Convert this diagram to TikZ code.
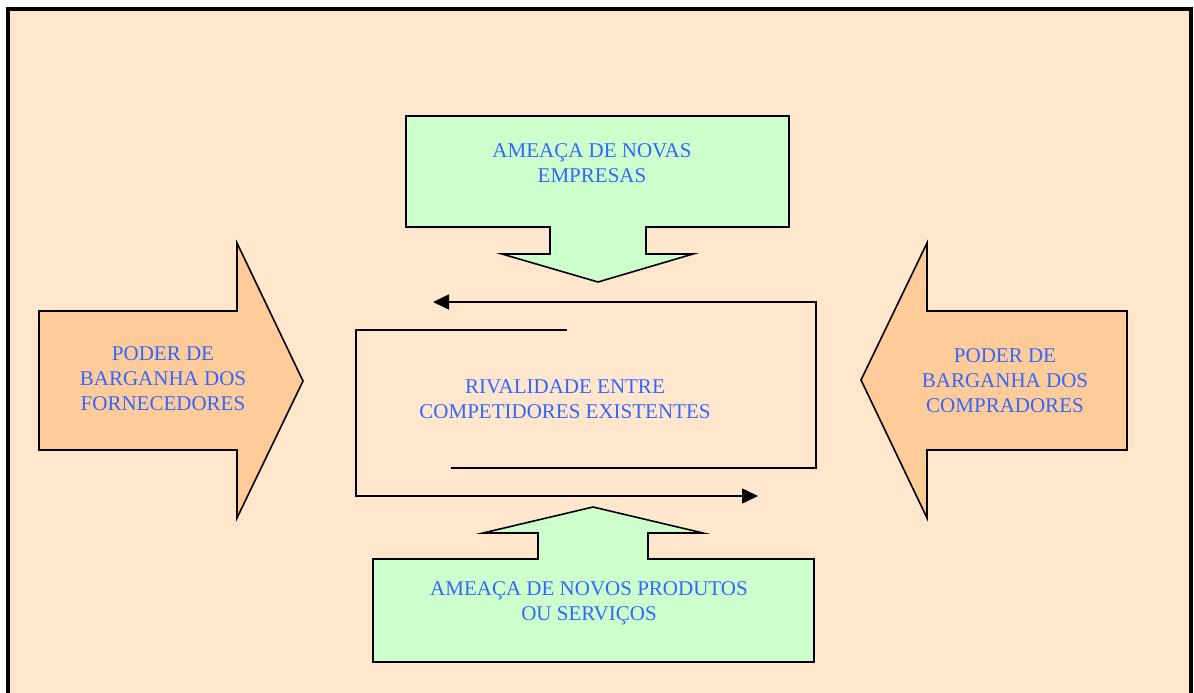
\documentclass[tikz,border=0pt]{standalone}
\usepackage{fontspec}
\setmainfont{Liberation Serif}
\usetikzlibrary{arrows.meta}
\definecolor{pagebg}{HTML}{FFE6CC}
\definecolor{threatfill}{HTML}{CCFFCC}
\definecolor{powerfill}{HTML}{FFCC99}
\definecolor{labelblue}{HTML}{3366FF}
\tikzset{
  forceshape/.style={draw=black, line width=1.6pt, line join=miter},
  forcelabel/.style={text=labelblue, align=center, font=\fontsize{21}{25}\selectfont, inner sep=0pt},
  loopline/.style={draw=black, line width=1.6pt},
  looparrow/.style={loopline, -{Triangle[length=16pt, width=15pt]}}
}
\begin{document}
\begin{tikzpicture}[x=1pt, y=-1pt]
  \useasboundingbox (0,0) rectangle (1194,693);
  \clip (0,0) rectangle (1194,693);
  \fill[white] (0,0) rectangle (1194,693);
  % outer frame
  \draw[fill=pagebg, line width=4pt] (8,9) rectangle (1191,710);

  % threat of new entrants (top, pointing down)
  \draw[forceshape, fill=threatfill]
    (406,116) -- (789,116) -- (789,227) -- (646,227) -- (646,254) -- (693,254)
    -- (598,282) -- (502,254) -- (550,254) -- (550,227) -- (406,227) -- cycle;
  \node[forcelabel] (entrants) at (592,163) {AMEAÇA DE NOVAS\\EMPRESAS};

  % threat of substitutes (bottom, pointing up)
  \draw[forceshape, fill=threatfill]
    (373,662) -- (814,662) -- (814,559) -- (648,559) -- (648,533) -- (703,533)
    -- (593,507) -- (483,533) -- (538,533) -- (538,559) -- (373,559) -- cycle;
  \node[forcelabel] (substitutes) at (589,603) {AMEAÇA DE NOVOS PRODUTOS\\OU SERVIÇOS};

  % supplier power (left, pointing right)
  \draw[forceshape, fill=powerfill]
    (39,311) -- (237,311) -- (237,243) -- (303,381) -- (237,518) -- (237,450)
    -- (39,450) -- cycle;
  \node[forcelabel] (suppliers) at (163,379) {PODER DE\\BARGANHA DOS\\FORNECEDORES};

  % buyer power (right, pointing left)
  \draw[forceshape, fill=powerfill]
    (1127,311) -- (927,311) -- (927,243) -- (861,380) -- (927,518) -- (927,450)
    -- (1127,450) -- cycle;
  \node[forcelabel] (buyers) at (1005,381) {PODER DE\\BARGANHA DOS\\COMPRADORES};

  % rivalry among existing competitors
  \node[forcelabel] (rivalry) at (565,399) {RIVALIDADE ENTRE\\COMPETIDORES EXISTENTES};

  % circulating arrows around the rivalry label
  \coordinate (innerStart) at (451,468);
  \coordinate (innerCornerB) at (816,468);
  \coordinate (innerCornerT) at (816,302);
  \coordinate (innerEnd) at (433,302);
  \coordinate (outerStart) at (567,330);
  \coordinate (outerCornerT) at (356,330);
  \coordinate (outerCornerB) at (356,496);
  \coordinate (outerEnd) at (758,496);
  \draw[looparrow] (innerStart) -- (innerCornerB) -- (innerCornerT) -- (innerEnd);
  \draw[looparrow] (outerStart) -- (outerCornerT) -- (outerCornerB) -- (outerEnd);
\end{tikzpicture}
\end{document}
